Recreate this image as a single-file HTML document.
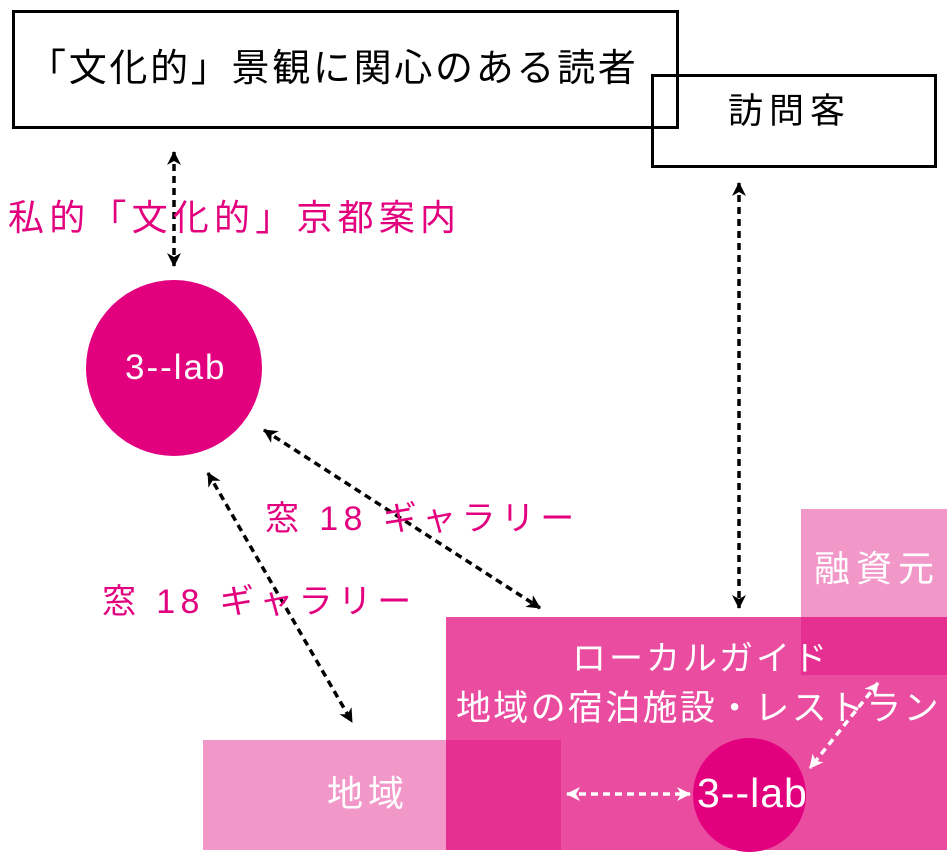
<!DOCTYPE html>
<html><head><meta charset="utf-8"><style>
html,body{margin:0;padding:0;background:#fff;}
body{width:950px;height:857px;position:relative;overflow:hidden;font-family:"Liberation Sans","Noto Sans CJK JP",sans-serif;}
.a{position:absolute;}
.t{position:absolute;white-space:nowrap;line-height:1;}
</style></head><body>
<div class="a" style="left:446px;top:617px;width:501px;height:233px;background:#ea4ca0"></div>
<div class="a" style="left:801px;top:509px;width:146px;height:108px;background:#f298c9"></div>
<div class="a" style="left:801px;top:617px;width:146px;height:58px;background:#e52f91"></div>
<div class="a" style="left:203px;top:740px;width:243px;height:110px;background:#f298c9"></div>
<div class="a" style="left:446px;top:740px;width:115px;height:110px;background:#e52f91"></div>
<div class="a" style="left:693px;top:738px;width:113px;height:114px;border-radius:50%;background:#e2007f"></div>
<div class="a" style="left:86px;top:280px;width:176px;height:176px;border-radius:50%;background:#e2007f"></div>
<div class="a" style="left:12px;top:10px;width:661px;height:113px;border:3px solid #000"></div>
<div class="a" style="left:651px;top:74px;width:280px;height:88px;border:3px solid #000"></div>
<svg class="a" style="left:0;top:0" width="950" height="857">
<defs>
<marker id="k" markerWidth="16" markerHeight="16" refX="13" refY="7" orient="auto-start-reverse" markerUnits="userSpaceOnUse"><path d="M0,0 L14,7 L0,14 L4,7z" fill="#000"/></marker>
<marker id="w" markerWidth="16" markerHeight="16" refX="13" refY="7" orient="auto-start-reverse" markerUnits="userSpaceOnUse"><path d="M0,0 L14,7 L0,14 L4,7z" fill="#fff"/></marker>
</defs>
<g stroke="#000" stroke-width="3.5" stroke-dasharray="7,5" fill="none">
<line x1="174" y1="152" x2="174" y2="266" marker-start="url(#k)" marker-end="url(#k)"/>
<line x1="739" y1="183" x2="739" y2="608" marker-start="url(#k)" marker-end="url(#k)"/>
<line x1="264" y1="430" x2="540" y2="608" marker-start="url(#k)" marker-end="url(#k)"/>
<line x1="208" y1="473" x2="352" y2="722" marker-start="url(#k)" marker-end="url(#k)"/>
</g>
<g stroke="#fff" stroke-width="3.5" stroke-dasharray="7,5" fill="none">
<line x1="878" y1="683" x2="810" y2="768" marker-start="url(#w)" marker-end="url(#w)"/>
<line x1="567" y1="794" x2="690" y2="794" marker-start="url(#w)" marker-end="url(#w)"/>
</g>
</svg>
<div class="t" style="left:28px;top:50px;font-size:38px;letter-spacing:2.7px;color:#000">「文化的」景観に関心のある読者</div>
<div class="t" style="left:728px;top:94px;font-size:35px;letter-spacing:6px;color:#000">訪問客</div>
<div class="t" style="left:8px;top:200px;font-size:36px;letter-spacing:5.2px;color:#e2007f">私的「文化的」京都案内</div>
<div class="t" style="left:125px;top:350px;font-size:35px;letter-spacing:2px;color:#fff">3--lab</div>
<div class="t" style="left:265px;top:502px;font-size:34px;letter-spacing:5.4px;color:#e2007f">窓 18 ギャラリー</div>
<div class="t" style="left:102px;top:585px;font-size:34px;letter-spacing:5.4px;color:#e2007f">窓 18 ギャラリー</div>
<div class="t" style="left:814px;top:551px;font-size:36px;letter-spacing:6px;color:#fff">融資元</div>
<div class="t" style="left:572px;top:642px;font-size:34px;letter-spacing:3px;color:#fff">ローカルガイド</div>
<div class="t" style="left:456px;top:691px;font-size:35px;letter-spacing:2.3px;color:#fff">地域の宿泊施設・レストラン</div>
<div class="t" style="left:327px;top:776px;font-size:36px;letter-spacing:5px;color:#fff">地域</div>
<div class="t" style="left:697px;top:773px;font-size:41px;letter-spacing:1px;color:#fff">3--lab</div>
</body></html>
